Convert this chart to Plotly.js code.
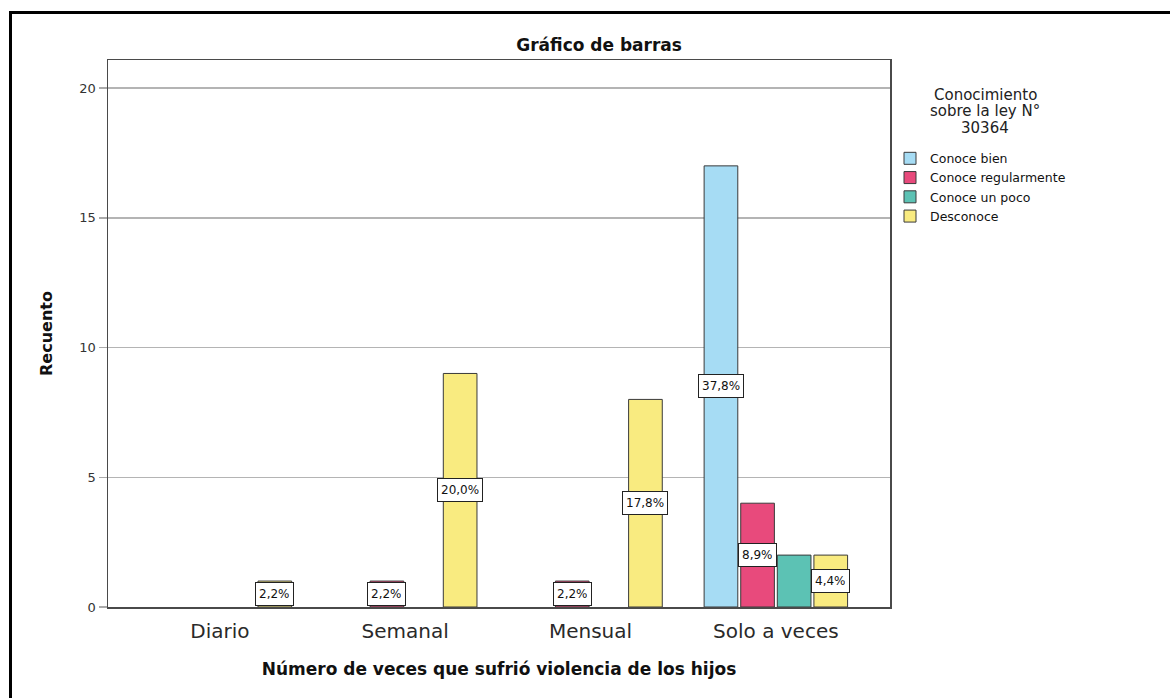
<!DOCTYPE html>
<html>
<head>
<meta charset="utf-8">
<script src="https://cdn.plot.ly/plotly-3.0.1.min.js"></script>
<style>
  html, body { margin: 0; padding: 0; background: #fff; }
  #wrap { position: relative; width: 1170px; height: 698px; overflow: hidden; }
  #chart { position: absolute; left: 0; top: 0; width: 1170px; height: 698px; }
  #frame { position: absolute; left: 9px; top: 11px; width: 1200px; height: 720px;
           border-left: 3px solid #000; border-top: 3px solid #000; pointer-events: none; }
</style>
</head>
<body>
<div id="wrap">
  <div id="chart"></div>
  <div id="frame"></div>
</div>
<script>
// ---- Data ----
const categories = ['Diario', 'Semanal', 'Mensual', 'Solo a veces'];
const seriesNames = ['Conoce bien', 'Conoce regularmente', 'Conoce un poco', 'Desconoce'];
const conoceBien = [null, null, null, 17];
const conoceRegularmente = [null, 1, 1, 4];
const conoceUnPoco = [null, null, null, 2];
const desconoce = [1, 9, 8, 2];
const seriesColors = ['#a6dcf4', '#e84a7c', '#5cc2b4', '#f9eb80'];
const legendTitleLines = ['Conocimiento', 'sobre la ley N°', '30364'];
// labels SPSS did not draw (overlapped)
const hiddenLabels = [['Solo a veces', 'Conoce un poco']];

const seriesValues = [conoceBien, conoceRegularmente, conoceUnPoco, desconoce];
const total = seriesValues.flat().reduce((a, v) => a + (v || 0), 0);

const FONT = 'DejaVu Sans, Verdana, sans-serif';
const bargap = 0.21;
const bargroupgap = 0.08;

const traces = seriesNames.map((name, i) => ({
  type: 'bar',
  name: name,
  x: categories,
  y: seriesValues[i],
  marker: { color: seriesColors[i], line: { color: '#3a3a3a', width: 1 } },
  hoverinfo: 'x+y+name'
}));

// Percentage labels at mid-height of each bar
const slot = (1 - bargap) / seriesNames.length;
const annotations = [];
seriesValues.forEach((vals, si) => {
  vals.forEach((v, ci) => {
    if (!v) return;
    if (hiddenLabels.some(h => h[0] === categories[ci] && h[1] === seriesNames[si])) return;
    const pct = (100 * v / total).toFixed(1).replace('.', ',') + '%';
    annotations.push({
      x: ci + (si - (seriesNames.length - 1) / 2) * slot,
      y: v / 2,
      xref: 'x', yref: 'y',
      text: pct,
      showarrow: false,
      height: 16,
      bgcolor: '#ffffff',
      bordercolor: '#222',
      borderwidth: 1,
      borderpad: 3,
      font: { family: FONT, size: 12, color: '#111' }
    });
  });
});

// Legend title (centered block of lines above the legend items)
const legendTitleY = [0.9365, 0.906, 0.875];
legendTitleLines.forEach((line, i) => {
  annotations.push({
    x: 1.1215, xref: 'paper', xanchor: 'center',
    y: legendTitleY[i], yref: 'paper', yanchor: 'middle',
    text: line, showarrow: false,
    font: { family: FONT, size: 15, color: '#222' }
  });
});

const layout = {
  width: 1170,
  height: 698,
  margin: { l: 108, r: 280, t: 60, b: 91, pad: 0 },
  paper_bgcolor: '#ffffff',
  plot_bgcolor: '#ffffff',
  font: { family: FONT, color: '#222' },
  barmode: 'group',
  bargap: bargap,
  bargroupgap: bargroupgap,
  title: {
    text: '<b>Gráfico de barras</b>',
    font: { family: FONT, size: 17, color: '#111' },
    x: 0.628, xref: 'paper', xanchor: 'center',
    y: 1, yref: 'paper', yanchor: 'bottom',
    pad: { b: 9 }
  },
  xaxis: {
    type: 'category',
    range: [-0.604, 3.616],
    showline: true, linecolor: '#4a4a4a', linewidth: 1.5, mirror: true,
    showgrid: false, zeroline: false,
    ticks: 'outside', ticklen: 5, tickcolor: 'rgba(0,0,0,0)',
    tickfont: { family: FONT, size: 20, color: '#2a2a2a' },
    title: { text: '<b>Número de veces que sufrió violencia de los hijos</b>',
             font: { family: FONT, size: 17, color: '#111' }, standoff: 21 }
  },
  yaxis: {
    range: [0, 21.08],
    tickvals: [0, 5, 10, 15, 20],
    showline: true, linecolor: '#4a4a4a', linewidth: 1.5, mirror: true,
    showgrid: true, gridcolor: '#b4b4b4', gridwidth: 1.5,
    zeroline: false,
    ticks: 'outside', ticklen: 8, tickcolor: '#aaaaaa', tickwidth: 1.5,
    tickfont: { family: FONT, size: 13, color: '#333' },
    title: { text: '<b>Recuento</b>', font: { family: FONT, size: 16, color: '#111' }, standoff: 23 }
  },
  legend: {
    x: 1.0, xref: 'paper', xanchor: 'left',
    y: 0.847, yref: 'paper', yanchor: 'top',
    bgcolor: 'rgba(0,0,0,0)',
    font: { family: FONT, size: 12.5, color: '#111' },
    traceorder: 'normal',
    itemclick: false, itemdoubleclick: false
  },
  annotations: annotations,
  showlegend: true
};

Plotly.newPlot('chart', traces, layout, { displayModeBar: false, staticPlot: true });
</script>
</body>
</html>
